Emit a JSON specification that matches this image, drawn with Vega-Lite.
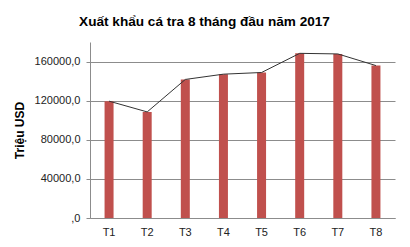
{
  "$schema": "https://vega.github.io/schema/vega-lite/v6.json",
  "width": 305,
  "height": 176,
  "autosize": "none",
  "padding": {"left": 90, "top": 42, "right": 15, "bottom": 29},
  "background": "white",
  "config": {
    "view": {"stroke": null},
    "font": "Liberation Sans"
  },
  "title": {
    "text": "Xuất khẩu cá tra 8 tháng đầu năm 2017",
    "font": "Liberation Sans",
    "fontSize": 13.6,
    "fontWeight": "bold",
    "color": "#000000",
    "anchor": "middle",
    "frame": "group",
    "dx": -38,
    "offset": 13
  },
  "data": {
    "values": [
      {"month": "T1", "value": 119500},
      {"month": "T2", "value": 108500},
      {"month": "T3", "value": 141700},
      {"month": "T4", "value": 147100},
      {"month": "T5", "value": 148800},
      {"month": "T6", "value": 168400},
      {"month": "T7", "value": 167800},
      {"month": "T8", "value": 155900}
    ]
  },
  "encoding": {
    "x": {
      "field": "month",
      "type": "ordinal",
      "sort": null,
      "scale": {"paddingInner": 0, "paddingOuter": 0},
      "axis": {
        "title": null,
        "labelAngle": 0,
        "labelFontSize": 11,
        "labelColor": "#222222",
        "labelPadding": 8,
        "ticks": false,
        "domainColor": "#8c8c8c",
        "grid": false
      }
    },
    "y": {
      "field": "value",
      "type": "quantitative",
      "scale": {"domain": [0, 180000], "nice": false},
      "axis": {
        "title": "Triệu USD",
        "titleFontSize": 12,
        "titleFontWeight": "bold",
        "titleColor": "#000000",
        "titlePadding": 8,
        "values": [0, 40000, 80000, 120000, 160000],
        "labelExpr": "datum.value == 0 ? ',0' : replace(format(datum.value, '.1f'), '.', ',')",
        "labelFontSize": 11,
        "labelColor": "#222222",
        "labelPadding": 6,
        "tickSize": 4,
        "tickColor": "#8c8c8c",
        "domainColor": "#8c8c8c",
        "gridColor": "#8c8c8c",
        "grid": true
      }
    }
  },
  "layer": [
    {"mark": {"type": "bar", "color": "#C0504D", "size": 9}},
    {"mark": {"type": "line", "color": "#333333", "strokeWidth": 1}}
  ]
}
